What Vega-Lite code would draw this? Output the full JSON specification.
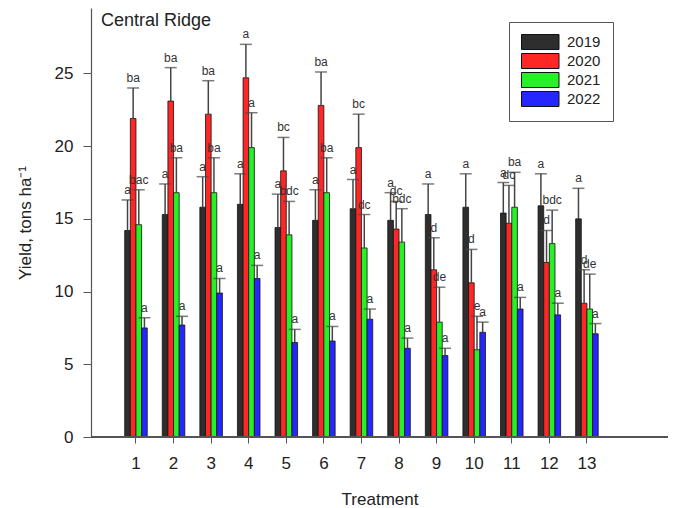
{
  "$schema": "https://vega.github.io/schema/vega-lite/v6.json",
  "width": 577,
  "height": 429,
  "autosize": {"type": "none"},
  "padding": {"left": 91, "top": 8, "right": 5, "bottom": 71},
  "background": "white",
  "config": {
    "view": {"stroke": null},
    "font": "Liberation Sans",
    "axis": {"grid": false, "domainColor": "#555", "tickColor": "#555", "labelColor": "#222", "titleColor": "#222", "labelFont": "Liberation Sans", "titleFont": "Liberation Sans", "titleFontWeight": "normal"}
  },
  "title": {"text": "Central Ridge", "anchor": "start", "frame": "group", "orient": "top", "baseline": "top", "offset": 0, "dy": 22, "dx": 10, "fontSize": 18, "fontWeight": "normal", "color": "#222", "font": "Liberation Sans"},
  "data": {"values": [
    {"t": 1, "year": "2019", "mean": 14.2, "upper": 16.3, "label": "a"},
    {"t": 1, "year": "2020", "mean": 21.9, "upper": 24.0, "label": "ba"},
    {"t": 1, "year": "2021", "mean": 14.6, "upper": 17.0, "label": "bac"},
    {"t": 1, "year": "2022", "mean": 7.5, "upper": 8.2, "label": "a"},
    {"t": 2, "year": "2019", "mean": 15.3, "upper": 17.4, "label": "a"},
    {"t": 2, "year": "2020", "mean": 23.1, "upper": 25.4, "label": "ba"},
    {"t": 2, "year": "2021", "mean": 16.8, "upper": 19.2, "label": "ba"},
    {"t": 2, "year": "2022", "mean": 7.7, "upper": 8.3, "label": "a"},
    {"t": 3, "year": "2019", "mean": 15.8, "upper": 17.9, "label": "a"},
    {"t": 3, "year": "2020", "mean": 22.2, "upper": 24.5, "label": "ba"},
    {"t": 3, "year": "2021", "mean": 16.8, "upper": 19.2, "label": "ba"},
    {"t": 3, "year": "2022", "mean": 9.9, "upper": 10.9, "label": "a"},
    {"t": 4, "year": "2019", "mean": 16.0, "upper": 18.1, "label": "a"},
    {"t": 4, "year": "2020", "mean": 24.7, "upper": 27.0, "label": "a"},
    {"t": 4, "year": "2021", "mean": 19.9, "upper": 22.3, "label": "a"},
    {"t": 4, "year": "2022", "mean": 10.9, "upper": 11.8, "label": "a"},
    {"t": 5, "year": "2019", "mean": 14.4, "upper": 16.7, "label": "a"},
    {"t": 5, "year": "2020", "mean": 18.3, "upper": 20.6, "label": "bc"},
    {"t": 5, "year": "2021", "mean": 13.9, "upper": 16.2, "label": "bdc"},
    {"t": 5, "year": "2022", "mean": 6.5, "upper": 7.4, "label": "a"},
    {"t": 6, "year": "2019", "mean": 14.9, "upper": 17.0, "label": "a"},
    {"t": 6, "year": "2020", "mean": 22.8, "upper": 25.1, "label": "ba"},
    {"t": 6, "year": "2021", "mean": 16.8, "upper": 19.2, "label": "ba"},
    {"t": 6, "year": "2022", "mean": 6.6, "upper": 7.6, "label": "a"},
    {"t": 7, "year": "2019", "mean": 15.7, "upper": 17.7, "label": "a"},
    {"t": 7, "year": "2020", "mean": 19.9, "upper": 22.2, "label": "bc"},
    {"t": 7, "year": "2021", "mean": 13.0, "upper": 15.3, "label": "dc"},
    {"t": 7, "year": "2022", "mean": 8.1, "upper": 8.8, "label": "a"},
    {"t": 8, "year": "2019", "mean": 14.9, "upper": 16.8, "label": "a"},
    {"t": 8, "year": "2020", "mean": 14.3, "upper": 16.2, "label": "dc"},
    {"t": 8, "year": "2021", "mean": 13.4, "upper": 15.7, "label": "bdc"},
    {"t": 8, "year": "2022", "mean": 6.1, "upper": 6.8, "label": "a"},
    {"t": 9, "year": "2019", "mean": 15.3, "upper": 17.4, "label": "a"},
    {"t": 9, "year": "2020", "mean": 11.5, "upper": 13.7, "label": "d"},
    {"t": 9, "year": "2021", "mean": 7.9, "upper": 10.3, "label": "de"},
    {"t": 9, "year": "2022", "mean": 5.6, "upper": 6.1, "label": "a"},
    {"t": 10, "year": "2019", "mean": 15.8, "upper": 18.1, "label": "a"},
    {"t": 10, "year": "2020", "mean": 10.6, "upper": 12.9, "label": "d"},
    {"t": 10, "year": "2021", "mean": 6.0, "upper": 8.3, "label": "e"},
    {"t": 10, "year": "2022", "mean": 7.2, "upper": 7.9, "label": "a"},
    {"t": 11, "year": "2019", "mean": 15.4, "upper": 17.5, "label": "a"},
    {"t": 11, "year": "2020", "mean": 14.7, "upper": 17.3, "label": "dc"},
    {"t": 11, "year": "2021", "mean": 15.8, "upper": 18.2, "label": "ba"},
    {"t": 11, "year": "2022", "mean": 8.8, "upper": 9.6, "label": "a"},
    {"t": 12, "year": "2019", "mean": 15.9, "upper": 18.1, "label": "a"},
    {"t": 12, "year": "2020", "mean": 12.0, "upper": 14.2, "label": "d"},
    {"t": 12, "year": "2021", "mean": 13.3, "upper": 15.6, "label": "bdc"},
    {"t": 12, "year": "2022", "mean": 8.4, "upper": 9.2, "label": "a"},
    {"t": 13, "year": "2019", "mean": 15.0, "upper": 17.1, "label": "a"},
    {"t": 13, "year": "2020", "mean": 9.2, "upper": 11.5, "label": "d"},
    {"t": 13, "year": "2021", "mean": 8.8, "upper": 11.2, "label": "de"},
    {"t": 13, "year": "2022", "mean": 7.1, "upper": 7.8, "label": "a"}
  ]},
  "layer": [
    {
      "mark": {"type": "bar", "stroke": "#111", "strokeWidth": 0.8},
      "encoding": {
        "x": {"field": "t", "type": "ordinal", "title": "Treatment",
          "scale": {"paddingInner": 0.4, "paddingOuter": 0, "range": [33.7, 507.2]},
          "axis": {"labelAngle": 0, "labelFontSize": 17, "titleFontSize": 17, "tickSize": 6, "labelPadding": 12, "titlePadding": 20, "domain": false, "titleX": 288.5}},
        "xOffset": {"field": "year", "type": "nominal", "scale": {"paddingInner": 0, "paddingOuter": 0}},
        "y": {"field": "mean", "type": "quantitative", "title": "Yield, tons ha⁻¹",
          "scale": {"domain": [0, 29.5], "nice": false},
          "axis": {"values": [0, 5, 10, 15, 20, 25], "labelFontSize": 17, "titleFontSize": 17, "tickSize": 8, "labelPadding": 10, "titlePadding": 20, "domainWidth": 1.2}},
        "color": {"field": "year", "type": "nominal",
          "scale": {"domain": ["2019", "2020", "2021", "2022"], "range": ["#2e2e2e", "#ff2626", "#26f026", "#2626ff"]},
          "legend": {"title": null, "orient": "none", "legendX": 418, "legendY": 14, "direction": "vertical",
            "symbolType": "M-1,-1H4V1H-1Z", "symbolSize": 225, "symbolStrokeColor": "#111", "symbolStrokeWidth": 1, "symbolOpacity": 1,
            "labelOffset": 30, "labelFontSize": 15, "labelFont": "Liberation Sans", "labelColor": "#222", "rowPadding": -1,
            "padding": 12, "strokeColor": "#555", "fillColor": "white"}}
      }
    },
    {
      "mark": {"type": "rule", "color": "#444", "strokeWidth": 1.5},
      "encoding": {
        "x": {"field": "t", "type": "ordinal"},
        "xOffset": {"field": "year", "type": "nominal"},
        "y": {"field": "mean", "type": "quantitative"}, "y2": {"field": "upper"}}
    },
    {
      "mark": {"type": "tick", "color": "#444", "thickness": 1.5, "size": 12, "orient": "horizontal"},
      "encoding": {
        "x": {"field": "t", "type": "ordinal"},
        "xOffset": {"field": "year", "type": "nominal"},
        "y": {"field": "upper", "type": "quantitative"}}
    },
    {
      "mark": {"type": "text", "baseline": "bottom", "dy": -3, "fontSize": 12, "color": "#333", "font": "Liberation Sans"},
      "encoding": {
        "x": {"field": "t", "type": "ordinal"},
        "xOffset": {"field": "year", "type": "nominal"},
        "y": {"field": "upper", "type": "quantitative"}, "text": {"field": "label"}}
    },
    {
      "mark": {"type": "rule", "color": "#555", "strokeWidth": 1.2},
      "encoding": {"y": {"datum": 0}}
    }
  ]
}
